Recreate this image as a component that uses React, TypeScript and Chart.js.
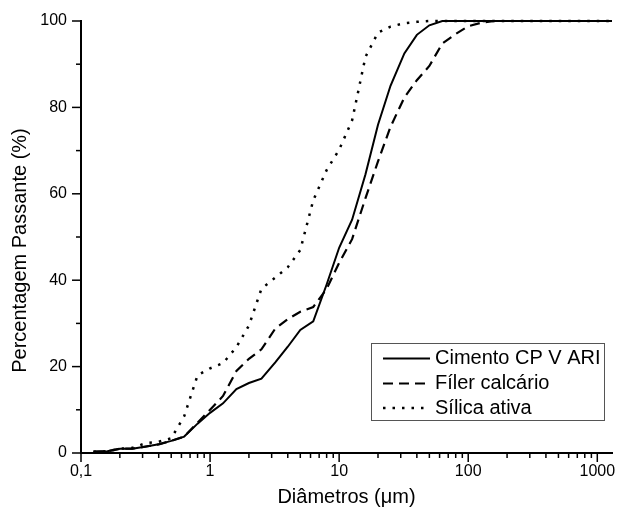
import React, { useEffect, useRef } from 'react';
import { Chart, registerables } from 'chart.js';

Chart.register(...registerables);

const FONT = '"Liberation Sans", Arial, sans-serif';

// Particle diameters (µm)
const diameters = [0.125, 0.16, 0.2, 0.25, 0.32, 0.4, 0.5, 0.63, 0.8, 1.0, 1.26, 1.6, 2.0, 2.5, 3.2, 4.0, 5.0, 6.3, 8.0, 10, 12.6, 16, 20, 25, 32, 40, 50, 63, 80, 100, 126, 160, 1300];

// Cumulative passing (%)
const cimento = [0.3, 0.4, 1.0, 1.0, 1.5, 2.0, 2.8, 3.8, 6.8, 9.3, 11.5, 14.8, 16.2, 17.2, 21.0, 24.6, 28.5, 30.5, 39.0, 47.5, 54.0, 64.5, 76.0, 85.0, 92.5, 96.8, 99.0, 100, 100, 100, 100, 100, 100];
const filer = [0.3, 0.4, 1.0, 1.0, 1.5, 2.0, 2.8, 3.8, 7.0, 10.0, 13.2, 19.0, 21.8, 24.0, 28.8, 31.0, 32.7, 33.8, 38.0, 44.0, 49.5, 59.0, 67.5, 75.5, 82.3, 86.3, 89.6, 94.8, 97.0, 98.8, 99.6, 100, 100];
const silica = [0.3, 0.4, 1.0, 1.2, 2.3, 2.6, 3.4, 8.5, 18.0, 19.6, 20.8, 24.5, 29.5, 38.0, 40.6, 43.0, 47.0, 58.5, 65.5, 70.2, 77.0, 91.7, 97.3, 98.7, 99.5, 99.8, 100, 100, 100, 100, 100, 100, 100];

const seriesLabels = ['Cimento CP V ARI', 'Fíler calcário', 'Sílica ativa'];

const xMin = 0.1;
const xMax = 1300;
const xTickValues = [0.1, 1, 10, 100, 1000];
const xTickLabels = ['0,1', '1', '10', '100', '1000'];
const yMin = 0;
const yMax = 100;
const yMajorStep = 20;
const yMinorStep = 10;

const xTitle = 'Diâmetros (μm)';
const yTitle = 'Percentagem Passante (%)';

export default function App() {
  const ref = useRef<HTMLCanvasElement>(null);

  useEffect(() => {
    if (!ref.current) return;
    const toPts = (arr: number[]) => diameters.map((d, i) => ({ x: d, y: arr[i] }));

    const decorations = {
      id: 'decorations',
      afterDraw(chart: any) {
        const ctx = chart.ctx as CanvasRenderingContext2D;
        const xs = chart.scales.x;
        const ys = chart.scales.y;
        const area = chart.chartArea;
        ctx.save();
        ctx.strokeStyle = '#000';
        ctx.lineWidth = 1.5;
        // x tick marks
        xs.ticks.forEach((t: any) => {
          const px = xs.getPixelForValue(t.value);
          const len = t.major ? 9 : 5;
          ctx.beginPath();
          ctx.moveTo(px, area.bottom);
          ctx.lineTo(px, area.bottom + len);
          ctx.stroke();
        });
        // y tick marks
        ys.ticks.forEach((t: any) => {
          const py = ys.getPixelForValue(t.value);
          const len = t.value % yMajorStep === 0 ? 9 : 5;
          ctx.beginPath();
          ctx.moveTo(area.left, py);
          ctx.lineTo(area.left - len, py);
          ctx.stroke();
        });

        // y axis title
        ctx.fillStyle = '#000';
        ctx.font = `20px ${FONT}`;
        ctx.textAlign = 'center';
        ctx.textBaseline = 'middle';
        ctx.save();
        ctx.translate(20, 250.5);
        ctx.rotate(-Math.PI / 2);
        ctx.fillText(yTitle, 0, 0);
        ctx.restore();

        // legend box
        const bx = 371, by = 343, bw = 233, bh = 77;
        ctx.fillStyle = '#fff';
        ctx.fillRect(bx, by, bw, bh);
        ctx.strokeStyle = '#555';
        ctx.lineWidth = 1;
        ctx.strokeRect(bx + 0.5, by + 0.5, bw, bh);
        const rows = [358.5, 383.5, 408];
        chart.data.datasets.forEach((ds: any, i: number) => {
          const y = rows[i];
          ctx.save();
          ctx.strokeStyle = '#000';
          ctx.lineWidth = ds.borderWidth;
          ctx.setLineDash(ds.borderDash || []);
          ctx.lineCap = 'butt';
          ctx.beginPath();
          ctx.moveTo(383, y);
          ctx.lineTo(430, y);
          ctx.stroke();
          ctx.restore();
          ctx.fillStyle = '#000';
          ctx.font = `20px ${FONT}`;
          ctx.textAlign = 'left';
          ctx.textBaseline = 'middle';
          ctx.fillText(ds.label, 435, y);
        });
        ctx.restore();
      },
    };

    const chart = new Chart(ref.current, {
      type: 'scatter',
      data: {
        datasets: [
          {
            label: seriesLabels[0],
            data: toPts(cimento),
            showLine: true,
            borderColor: '#000',
            backgroundColor: '#000',
            borderWidth: 2,
            pointRadius: 0,
            borderDash: [],
            clip: false,
          },
          {
            label: seriesLabels[1],
            data: toPts(filer),
            showLine: true,
            borderColor: '#000',
            backgroundColor: '#000',
            borderWidth: 2.2,
            pointRadius: 0,
            borderDash: [10, 6],
            clip: false,
          },
          {
            label: seriesLabels[2],
            data: toPts(silica),
            showLine: true,
            borderColor: '#000',
            backgroundColor: '#000',
            borderWidth: 2.5,
            pointRadius: 0,
            borderDash: [2.5, 7],
            clip: false,
          },
        ],
      } as any,
      options: {
        animation: false,
        responsive: false,
        maintainAspectRatio: false,
        layout: { padding: { left: 0, top: 21, right: 5, bottom: 0 } },
        plugins: {
          legend: { display: false },
          tooltip: { enabled: false },
        },
        scales: {
          x: {
            type: 'logarithmic',
            min: xMin,
            max: xMax,
            afterBuildTicks(scale: any) {
              const ticks: any[] = [];
              for (let k = -1; k <= 3; k++) {
                for (let m = 1; m <= 9; m++) {
                  const v = m * Math.pow(10, k);
                  if (v >= xMin && v <= xMax) ticks.push({ value: v, major: m === 1 });
                }
              }
              scale.ticks = ticks;
            },
            afterFit(scale: any) {
              scale.height = 64;
              scale.paddingLeft = 0;
              scale.paddingRight = 0;
            },
            grid: { display: false, drawTicks: false, drawOnChartArea: false },
            border: { display: true, color: '#000', width: 2 },
            ticks: {
              autoSkip: false,
              maxRotation: 0,
              padding: 9,
              color: '#000',
              font: { family: FONT, size: 16 },
              callback: (value: any) => {
                const idx = xTickValues.indexOf(Number(value));
                return idx >= 0 ? xTickLabels[idx] : '';
              },
            },
            title: {
              display: true,
              text: xTitle,
              color: '#000',
              font: { family: FONT, size: 20 },
              padding: { top: 0, bottom: 8 },
            },
          },
          y: {
            type: 'linear',
            min: yMin,
            max: yMax,
            afterFit(scale: any) {
              scale.width = 81;
              scale.paddingTop = 0;
              scale.paddingBottom = 0;
            },
            grid: { display: false, drawTicks: false, drawOnChartArea: false },
            border: { display: true, color: '#000', width: 2 },
            ticks: {
              stepSize: yMinorStep,
              autoSkip: false,
              padding: 14,
              color: '#000',
              font: { family: FONT, size: 16 },
              callback: (value: any) => (Number(value) % yMajorStep === 0 ? String(value) : ''),
            },
            title: { display: false },
          },
        },
      } as any,
      plugins: [decorations],
    });
    return () => chart.destroy();
  }, []);

  return (
    <div style={{ position: 'absolute', left: 0, top: 0, width: 617, height: 517, background: '#fff' }}>
      <canvas ref={ref} width={617} height={517} style={{ display: 'block', width: 617, height: 517 }} />
    </div>
  );
}
